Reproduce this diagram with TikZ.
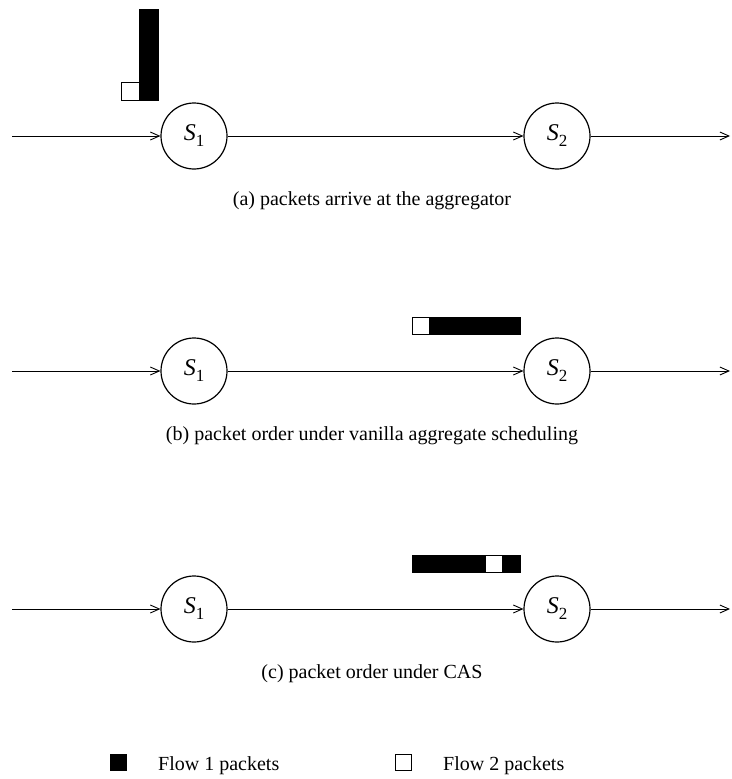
\documentclass[tikz,border=0pt]{standalone}
\usepackage{fontspec}
\setmainfont{Liberation Serif}
\usetikzlibrary{arrows.meta}
\newcommand{\sw}[1]{{\fontsize{24}{24}\selectfont\textit{S}}\raisebox{-0.3em}{\fontsize{17}{17}\selectfont #1}}
\begin{document}
\begin{tikzpicture}[x=1pt,y=-1pt,
  every node/.style={font=\fontsize{20}{24}\selectfont},
  switch/.style={draw,circle,line width=1.2pt,minimum size=66pt,inner sep=0pt},
  link/.style={line width=0.9pt,-{Straight Barb[length=9pt,width=8pt,line width=0.9pt]}},
  flowone/.style={fill=black,draw=black,line width=0.8pt},
  flowtwo/.style={fill=white,draw=black,line width=0.8pt},
  caption/.style={anchor=base}]
\useasboundingbox (0,0) rectangle (731,779);

% three rows: line heights
\foreach \r/\y/\lab in {a/136/{(a) packets arrive at the aggregator},
                        b/371/{(b) packet order under vanilla aggregate scheduling},
                        c/609/{(c) packet order under CAS}}{
  \coordinate (in\r) at (12,\y);
  \coordinate (out\r) at (730,\y);
  \node[switch] (s1\r) at (194,\y) {\sw{1}};
  \node[switch] (s2\r) at (557,\y) {\sw{2}};
  \draw[link] (in\r) -- (s1\r);
  \draw[link] (s1\r) -- (s2\r);
  \draw[link] (s2\r) -- (out\r);
  \node[caption] (cap\r) at (372,\y+69) {\lab};
}

% (a) packets queued at the aggregator input
\draw[flowone] (139.5,9.5) rectangle (158.5,100);
\draw[flowtwo] (121.5,82.5) rectangle (139.5,100);

% (b) flow 2 packet ahead of the flow 1 burst
\draw[flowone] (412.5,317.5) rectangle (520.5,334.5);
\draw[flowtwo] (412.5,317.5) rectangle (429.5,334.5);

% (c) flow 2 packet interleaved
\draw[flowone] (412.5,555.5) rectangle (520.5,572.5);
\draw[flowtwo] (485.5,555.5) rectangle (502.5,572.5);

% legend
\draw[flowone] (110.5,754.5) rectangle (126.5,770.5);
\node[anchor=base west,inner sep=0pt] (l1) at (158,770) {Flow 1 packets};
\draw[flowtwo] (395.5,754.5) rectangle (411.5,770.5);
\node[anchor=base west,inner sep=0pt] (l2) at (443,770) {Flow 2 packets};
\end{tikzpicture}
\end{document}
